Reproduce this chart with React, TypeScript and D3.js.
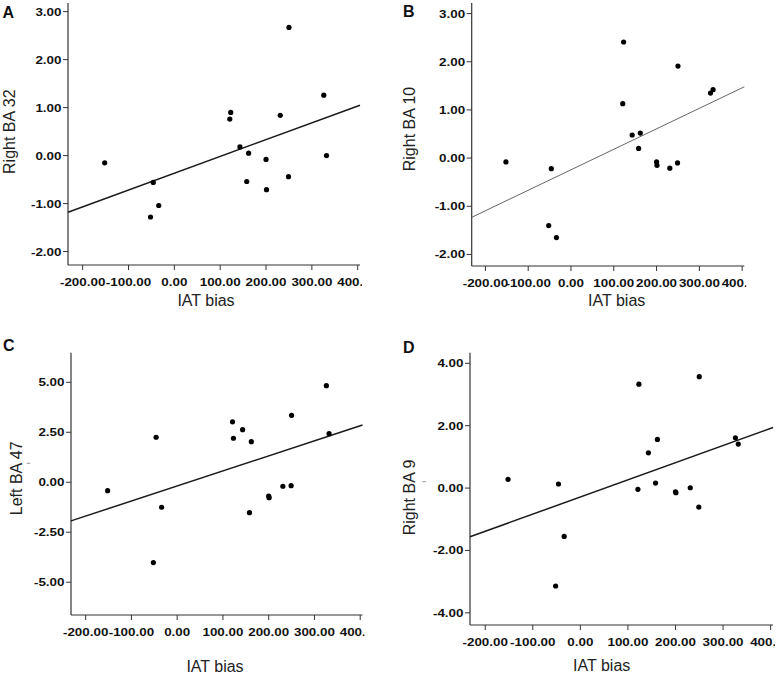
import React from "react";
import * as d3 from "d3";

// IAT bias (shared x for all panels, one value per participant)
const iatBias = [-152, -46, -34, -52, 121, 123, 143, 162, 158, 200, 201, 231, 250, 249, 326, 332];
const rightBA32 = [-0.15, -0.56, -1.04, -1.28, 0.76, 0.9, 0.18, 0.05, -0.54, -0.08, -0.71, 0.84, 2.67, -0.44, 1.26, 0.0];
const rightBA10 = [-0.08, -0.22, -1.65, -1.4, 1.13, 2.41, 0.48, 0.52, 0.2, -0.08, -0.15, -0.21, 1.91, -0.1, 1.35, 1.42];
const leftBA47 = [-0.42, 2.25, -1.25, -4.02, 3.02, 2.2, 2.63, 2.03, -1.52, -0.69, -0.77, -0.2, 3.35, -0.17, 4.83, 2.43];
const rightBA9 = [0.28, 0.13, -1.55, -3.14, -0.04, 3.33, 1.13, 1.56, 0.16, -0.12, -0.15, 0.01, 3.57, -0.61, 1.61, 1.41];

const xTicks = [-200, -100, 0, 100, 200, 300, 400];
const yTicksA = [-2, -1, 0, 1, 2, 3];
const yTicksB = [-2, -1, 0, 1, 2, 3];
const yTicksC = [-5, -2.5, 0, 2.5, 5];
const yTicksD = [-4, -2, 0, 2, 4];
const xLabel = "IAT bias";

const xDomain: [number, number] = [-232, 405];

type Panel = {
  id: string;
  letter: string;
  yLabel: string;
  values: number[];
  yDomain: [number, number];
  yTicks: number[];
  x0: number; x1: number; y0: number; y1: number;
  lineColor: string; lineWidth: number;
  letterPos: [number, number];
  yLabelPos: [number, number];
  xLabelPos: [number, number];
  clipLeft: number;
  mark?: [number, number];
};

const panels: Panel[] = [
  { id: "a", letter: "A", yLabel: "Right BA 32", values: rightBA32, yDomain: [-2.28, 3.18], yTicks: yTicksA,
    x0: 68, x1: 360, y0: 3, y1: 265, lineColor: "#1a1a1a", lineWidth: 1.5,
    letterPos: [2.5, 18.3], yLabelPos: [15, 131.7], xLabelPos: [206, 306], clipLeft: 0 },
  { id: "b", letter: "B", yLabel: "Right BA 10", values: rightBA10, yDomain: [-2.24, 3.22], yTicks: yTicksB,
    x0: 471.7, x1: 744.3, y0: 3, y1: 266, lineColor: "#666", lineWidth: 1,
    letterPos: [403, 16.7], yLabelPos: [414.5, 129], xLabelPos: [616.7, 306], clipLeft: 390 },
  { id: "c", letter: "C", yLabel: "Left BA 47", values: leftBA47, yDomain: [-6.64, 6.48], yTicks: yTicksC,
    x0: 71, x1: 362.5, y0: 352.7, y1: 615, lineColor: "#1a1a1a", lineWidth: 1.5,
    letterPos: [3, 350.7], yLabelPos: [21.5, 478.3], xLabelPos: [215, 672], clipLeft: 0, mark: [26.7, 463.3] },
  { id: "d", letter: "D", yLabel: "Right BA 9", values: rightBA9, yDomain: [-4.39, 4.34], yTicks: yTicksD,
    x0: 470, x1: 773, y0: 352.7, y1: 625, lineColor: "#1a1a1a", lineWidth: 1.5,
    letterPos: [403, 352.7], yLabelPos: [415, 497.5], xLabelPos: [601.7, 671], clipLeft: 390, mark: [422.5, 481.7] },
];

function fit(xs: number[], ys: number[]) {
  const mx = d3.mean(xs)!;
  const my = d3.mean(ys)!;
  let sxy = 0, sxx = 0;
  xs.forEach((x, i) => { sxy += (x - mx) * (ys[i] - my); sxx += (x - mx) * (x - mx); });
  const slope = sxy / sxx;
  return { slope, intercept: my - slope * mx };
}

const fmt = (v: number) => v.toFixed(2);
const tickFont = "'Liberation Sans', Arial, sans-serif";
const SX = 1.22;

function PanelView({ p }: { p: Panel }) {
  const x = d3.scaleLinear().domain(xDomain).range([p.x0, p.x1]);
  const y = d3.scaleLinear().domain(p.yDomain).range([p.y1, p.y0]);
  const { slope, intercept } = fit(iatBias, p.values);
  const line = d3.line<number>().x((d) => x(d)).y((d) => y(intercept + slope * d));
  const axisColor = "#333";
  return (
    <g>
      <defs>
        <clipPath id={`clip-${p.id}`}>
          <rect x={p.clipLeft} y={p.y0 - 20} width={p.x1 + 2 - p.clipLeft} height={p.y1 - p.y0 + 80} />
        </clipPath>
      </defs>
      <text x={p.letterPos[0]} y={p.letterPos[1]} fontFamily={tickFont} fontWeight="bold" fontSize={16} fill="#111">
        {p.letter}
      </text>
      <text
        transform={`translate(${p.yLabelPos[0]},${p.yLabelPos[1]}) rotate(-90)`}
        textAnchor="middle" fontFamily={tickFont} fontSize={16} fill="#222"
      >
        {p.yLabel}
      </text>
      {p.mark && (
        <line x1={p.mark[0]} x2={p.mark[0] + 3.5} y1={p.mark[1]} y2={p.mark[1]} stroke="#999" strokeWidth={1} />
      )}
      <text x={p.xLabelPos[0]} y={p.xLabelPos[1]} textAnchor="middle" fontFamily={tickFont} fontSize={16} fill="#222">
        {xLabel}
      </text>
      {/* axes */}
      <line x1={p.x0} x2={p.x0} y1={p.y0} y2={p.y1} stroke={axisColor} strokeWidth={1.2} />
      <line x1={p.x0} x2={p.x1} y1={p.y1} y2={p.y1} stroke={axisColor} strokeWidth={1.2} />
      {p.yTicks.map((t) => (
        <g key={`y${t}`}>
          <line x1={p.x0 - 5} x2={p.x0} y1={y(t)} y2={y(t)} stroke={axisColor} strokeWidth={1} />
          <text
            transform={`translate(${p.x0 - 6.5},${y(t) + 4}) scale(${SX},1)`}
            textAnchor="end" fontFamily={tickFont} fontWeight="bold" fontSize={11} fill="#111"
          >
            {fmt(t)}
          </text>
        </g>
      ))}
      <g clipPath={`url(#clip-${p.id})`}>
        {xTicks.map((t) => (
          <g key={`x${t}`}>
            <line x1={x(t)} x2={x(t)} y1={p.y1} y2={p.y1 + 5} stroke={axisColor} strokeWidth={1} />
            <text
              transform={`translate(${x(t)},${p.y1 + 21}) scale(${SX},1)`}
              textAnchor="middle" fontFamily={tickFont} fontWeight="bold" fontSize={11} fill="#111"
            >
              {fmt(t)}
            </text>
          </g>
        ))}
      </g>
      <path d={line(xDomain as number[]) || ""} fill="none" stroke={p.lineColor} strokeWidth={p.lineWidth} />
      {iatBias.map((xv, i) => (
        <circle key={i} cx={x(xv)} cy={y(p.values[i])} r={2.6} fill="#000" />
      ))}
    </g>
  );
}

export default function App() {
  return (
    <svg
      width={777}
      height={674}
      viewBox="0 0 777 674"
      style={{ position: "absolute", left: 0, top: 0, background: "#fff" }}
    >
      <rect width={777} height={674} fill="#fff" />
      {panels.map((p) => (
        <PanelView key={p.id} p={p} />
      ))}
    </svg>
  );
}
